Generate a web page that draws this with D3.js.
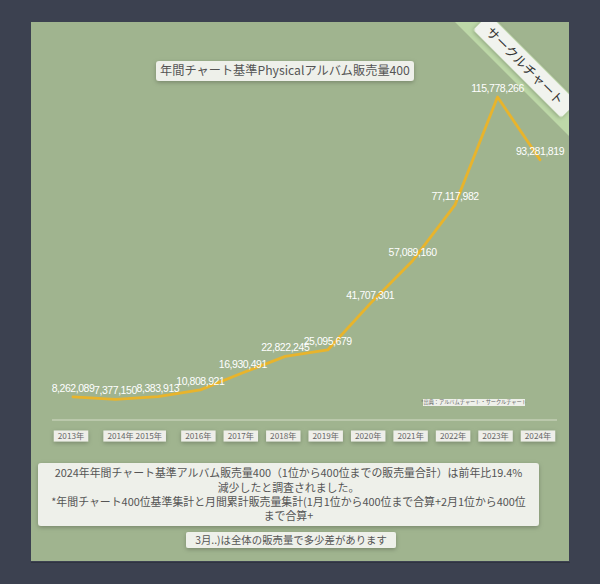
<!DOCTYPE html>
<html><head><meta charset="utf-8">
<script src="https://cdn.jsdelivr.net/npm/d3@7"></script>
<style>html,body{margin:0;padding:0;background:#3c4150;}svg{display:block;}</style>
</head><body>
<script>
const years = ["2013","2014","2015","2016","2017","2018","2019","2020","2021","2022","2023","2024"];
const sales = [8262089,7377150,8383913,10808921,16930491,22822245,25095679,41707301,57089160,77117982,115778266,93281819];
const tickLabels = ["2013年","2014年 2015年","2016年","2017年","2018年","2019年","2020年","2021年","2022年","2023年","2024年"];
const tickYears = [["2013"],["2014","2015"],["2016"],["2017"],["2018"],["2019"],["2020"],["2021"],["2022"],["2023"],["2024"]];
const title = "年間チャート基準Physicalアルバム販売量400";
const ribbonText = "サークルチャート";
const sourceText = "*出典：アルバムチャート・サークルチャート";
const noteLines = ["2024年年間チャート基準アルバム販売量400（1位から400位までの販売量合計）は前年比19.4%",
  "減少したと調査されました。",
  "*年間チャート400位基準集計と月間累計販売量集計(1月1位から400位まで合算+2月1位から400位",
  "まで合算+"];
const note2 = "3月..)は全体の販売量で多少差があります";

const W=600,H=584;
const svg=d3.select("body").append("svg").attr("width",W).attr("height",H);
const defs=svg.append("defs");
const f=defs.append("filter").attr("id","sh").attr("x","-20%").attr("y","-50%").attr("width","140%").attr("height","200%");
f.append("feDropShadow").attr("dx",0).attr("dy",1.5).attr("stdDeviation",2).attr("flood-color","#000").attr("flood-opacity",0.25);
defs.append("clipPath").attr("id","pc").append("rect").attr("x",31).attr("y",22).attr("width",538).attr("height",539);

svg.append("rect").attr("width",W).attr("height",H).attr("fill","#3c4150");
svg.append("rect").attr("x",31).attr("y",22).attr("width",538).attr("height",539).attr("fill","#a0b48f");
svg.append("line").attr("x1",31).attr("x2",570).attr("y1",562.5).attr("y2",562.5).attr("stroke","#2f3340").attr("stroke-width",1);

const CJK='"Noto Sans CJK JP","Noto Sans",sans-serif';
const x=d3.scalePoint().domain(years).range([73,540]);
const y=d3.scaleLinear().domain([0,120000000]).range([420,85.2]);

// ribbon
const rg=svg.append("g").attr("clip-path","url(#pc)");
rg.append("polygon").attr("points",[[433,0],[476,0],[676,200],[633,200]].map(p=>p.join(",")).join(" "))
  .attr("fill","#c0dcab").attr("opacity",0.9);
const rl=rg.append("g").attr("transform","translate(525,66) rotate(45)");
rl.append("rect").attr("x",-62).attr("y",-11).attr("width",124).attr("height",22).attr("rx",3).attr("fill","#f1f3ee").attr("filter","url(#sh)");
rl.append("text").attr("text-anchor","middle").attr("dy","0.36em").attr("font-family",CJK).attr("font-size",13).attr("fill","#333").text(ribbonText);

// title
const tg=svg.append("g");
tg.append("rect").attr("x",156).attr("y",61).attr("width",258).attr("height",20).attr("rx",3).attr("fill","#eef0ea").attr("filter","url(#sh)");
tg.append("text").attr("x",285).attr("y",71).attr("dy","0.36em").attr("text-anchor","middle").attr("font-family",CJK).attr("font-size",12.2).attr("fill","#555").text(title);

// baseline
svg.append("line").attr("x1",52).attr("x2",557).attr("y1",y(0)).attr("y2",y(0)).attr("stroke","#d3dcc8").attr("stroke-width",1.2);

// source note
const sg=svg.append("g");
sg.append("rect").attr("x",423).attr("y",399).attr("width",102).attr("height",7).attr("fill","#eef0ea");
sg.append("text").attr("x",474).attr("y",402.5).attr("dy","0.36em").attr("text-anchor","middle").attr("font-family",CJK).attr("font-size",5.2).attr("fill","#666").text(sourceText);

// line
const line=d3.line().x((d,i)=>x(years[i])).y(d=>y(d));
svg.append("path").datum(sales).attr("d",line).attr("fill","none").attr("stroke","#e8b42c").attr("stroke-width",2.8).attr("stroke-linejoin","round").attr("stroke-linecap","round");

// value labels
svg.append("g").selectAll("text").data(sales).join("text")
  .attr("x",(d,i)=>x(years[i])).attr("y",d=>y(d)-5)
  .attr("text-anchor","middle").attr("font-family",'"Liberation Sans",Arial,sans-serif').attr("font-size",10.5)
  .attr("letter-spacing",-0.45).attr("fill","#fff").text(d=>d3.format(",")(d));

// year tick labels
const tk=svg.append("g").selectAll("g").data(tickLabels).join("g")
  .attr("transform",(d,i)=>`translate(${d3.mean(tickYears[i],t=>x(t))-2},436)`);
tk.each(function(d){
  const g=d3.select(this);
  const t=g.append("text").attr("text-anchor","middle").attr("dy","0.36em").attr("font-family",CJK).attr("font-size",8.2).attr("fill","#666").text(d);
  const w=t.node().getComputedTextLength();
  g.insert("rect","text").attr("x",-w/2-4).attr("y",-5.5).attr("width",w+8).attr("height",11).attr("fill","#eeeee9").attr("filter","url(#sh)");
});

// note box
const ng=svg.append("g");
ng.append("rect").attr("x",38).attr("y",463).attr("width",501).attr("height",63).attr("rx",3).attr("fill","#eef0ea").attr("filter","url(#sh)");
ng.selectAll("text").data(noteLines).join("text").attr("x",288.5).attr("y",(d,i)=>473.5+i*14.3).attr("dy","0.36em")
  .attr("text-anchor","middle").attr("font-family",CJK).attr("font-size",10.9).attr("fill","#555").text(d=>d);
const n2=svg.append("g");
n2.append("rect").attr("x",186).attr("y",532).attr("width",210).attr("height",16).attr("rx",2).attr("fill","#eef0ea").attr("filter","url(#sh)");
n2.append("text").attr("x",291).attr("y",540).attr("dy","0.36em").attr("text-anchor","middle").attr("font-family",CJK).attr("font-size",10.4).attr("fill","#555").text(note2);
</script>
</body></html>
